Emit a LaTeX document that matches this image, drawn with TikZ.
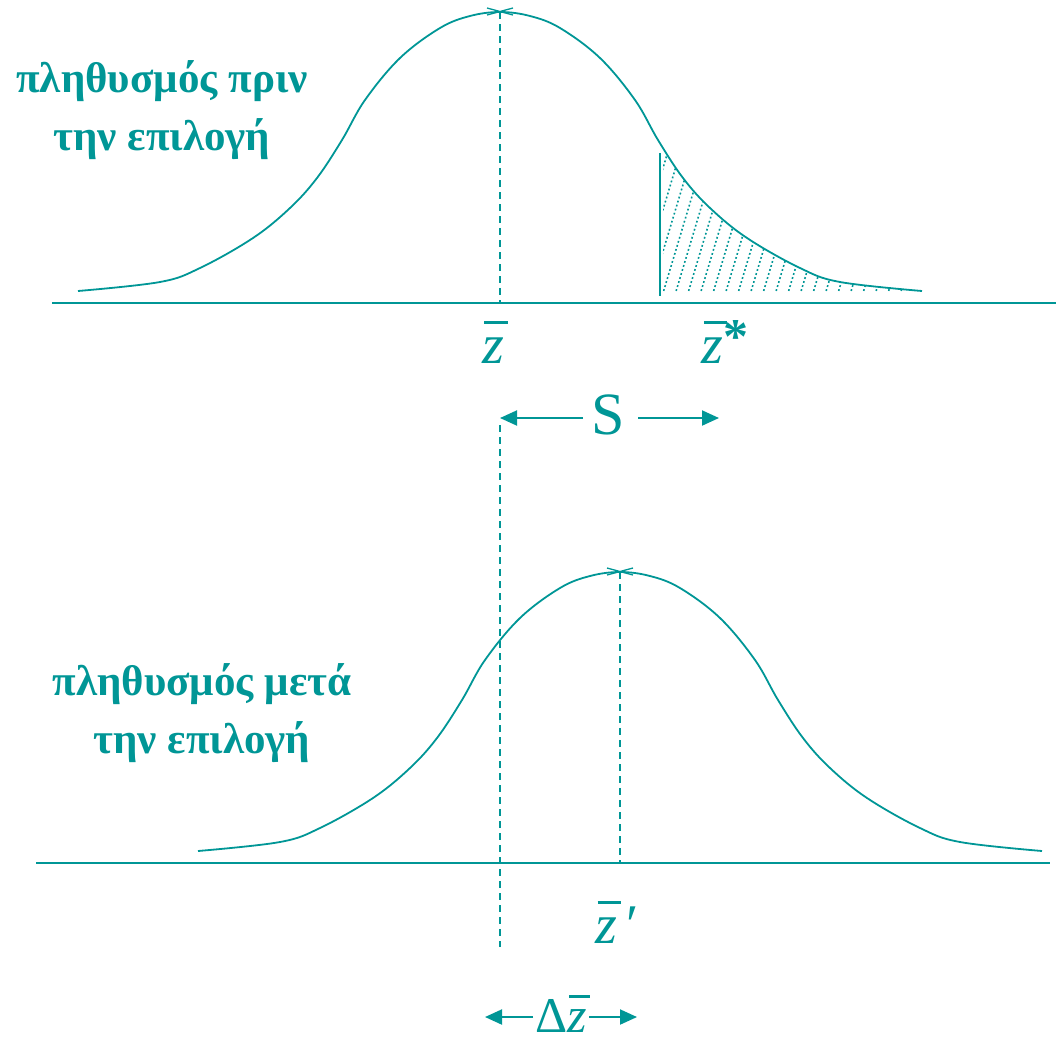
\documentclass[tikz,border=0pt]{standalone}
\usepackage{fontspec}
\setmainfont{Liberation Serif}
\usetikzlibrary{arrows.meta}
\definecolor{tl}{RGB}{0,150,150}
\tikzset{
  curve/.style={line width=1.8pt},
  axis/.style={line width=2.2pt},
  dashline/.style={line width=1.8pt, dash pattern=on 7pt off 5pt},
  hatch/.style={line width=1.6pt, dash pattern=on 1.8pt off 2.4pt},
  greek/.style={font=\bfseries\fontsize{43}{58}\selectfont, align=center, inner sep=0pt},
  lbl/.style={font=\fontsize{56}{56}\selectfont, inner sep=0pt},
  arr/.style={line width=2pt, -{Triangle[length=17pt,width=15pt]}}
}
\newcommand{\zbar}{\textit{z}\llap{\raisebox{0.7em}{\rule{0.42em}{0.055em}}\kern-0.07em}}
\newcommand{\bellpts}{(78,291) (160,282) (200,268) (253,238) (290,208) (317,178) (342,140) (365,100) (400,58) (440,28) (470,16) (500,12) (530,16) (560,28) (600,58) (635,100) (658,140) (683,178) (710,208) (747,238) (800,268) (840,282) (922,291)}
\begin{document}
\begin{tikzpicture}[x=1pt,y=-1pt,color=tl,draw=tl,text=tl]
\useasboundingbox (0,0) rectangle (1056,1042);

% ---------- top distribution ----------
\draw[axis] (52,303) -- (1056,303);
\draw[curve] plot[smooth,tension=0.6] coordinates {\bellpts};
\draw[line width=1.3pt] (487,8) -- (513,15) (487,15) -- (513,8);
\draw[dashline] (500,12) -- (500,303);
\draw[line width=2pt] (660,153) -- (660,296);
\begin{scope}
  \clip (663,0) rectangle (1056,303);
  \clip plot[smooth,tension=0.6] coordinates {\bellpts} -- cycle;
  \foreach \i in {0,...,26} \draw[hatch] (610+\i*12.5,303) -- ++(48,-160);
\end{scope}

\node[greek] (t1) at (162,110) {πληθυσμός πριν\\την επιλογή};

\node[lbl] (zb) at (493,342) {\zbar};
\node[lbl] (zs) at (725,342) {\zbar\raisebox{10pt}{\bfseries\fontsize{50}{50}\selectfont *}};

\node[font=\fontsize{60}{60}\selectfont, inner sep=0pt] (S) at (608,415) {S};
\coordinate (sL) at (500,418);
\coordinate (sR) at (719,418);
\draw[arr] ([xshift=-25pt]S.center |- sL) -- (sL);
\draw[arr] ([xshift=30pt]S.center |- sR) -- (sR);
\coordinate (vtop) at (500,425);
\coordinate (vbot) at (500,947);
\draw[dashline] (vtop) -- (vbot);

% ---------- bottom distribution ----------
\draw[axis] (36,863) -- (1050,863);
\begin{scope}[shift={(120,560)}]
  \draw[curve] plot[smooth,tension=0.6] coordinates {\bellpts};
  \draw[line width=1.3pt] (487,8) -- (513,15) (487,15) -- (513,8);
  \draw[dashline] (500,12) -- (500,303);
\end{scope}

\node[greek] (t2) at (202,713) {πληθυσμός μετά\\την επιλογή};

\node[lbl] (zp) at (617,922) {\zbar\,′};

\node[font=\fontsize{50}{50}\selectfont, inner sep=0pt] (D) at (561,1014) {Δ\zbar};
\coordinate (dL) at (485,1017);
\coordinate (dR) at (637,1017);
\draw[arr] ([xshift=-2pt]D.west |- dL) -- (dL);
\draw[arr] ([xshift=2pt]D.east |- dR) -- (dR);
\end{tikzpicture}
\end{document}
